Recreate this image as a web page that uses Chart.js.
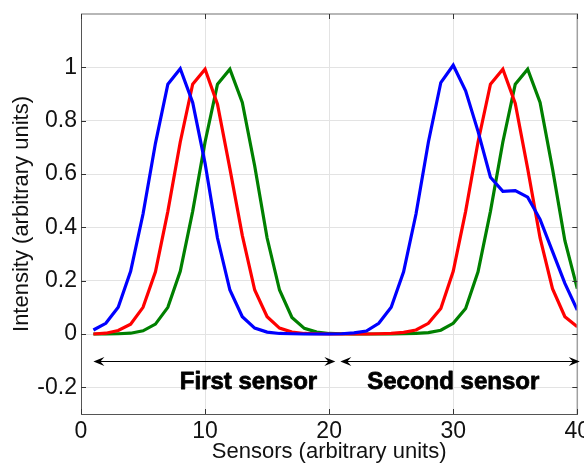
<!DOCTYPE html>
<html>
<head>
<meta charset="utf-8">
<script src="https://cdn.jsdelivr.net/npm/chart.js@4.4.1/dist/chart.umd.min.js"></script>
<style>
  html, body { margin: 0; padding: 0; background: #fff; overflow: hidden; }
  #wrap { width: 584px; height: 463px; }
</style>
</head>
<body>
<div id="wrap"><canvas id="sensor-chart" width="584" height="463"></canvas></div>
<script>
// sensor index along the array
const sensors = [1, 2, 3, 4, 5, 6, 7, 8, 9, 10, 11, 12, 13, 14, 15, 16, 17, 18, 19, 20,
  21, 22, 23, 24, 25, 26, 27, 28, 29, 30, 31, 32, 33, 34, 35, 36, 37, 38, 39, 40];

// measured intensity per sensor, one array per channel
const blueIntensity = [0.015, 0.04, 0.1, 0.235, 0.45, 0.715, 0.937, 0.995, 0.868, 0.64,
  0.36, 0.165, 0.065, 0.022, 0.007, 0.002, 0.001, 0, 0, 0,
  0.001, 0.004, 0.011, 0.04, 0.1, 0.233, 0.45, 0.72, 0.943, 1.008,
  0.912, 0.76, 0.588, 0.535, 0.538, 0.513, 0.43, 0.31, 0.19, 0.09];
const redIntensity = [0, 0.003, 0.013, 0.037, 0.1, 0.233, 0.46, 0.72, 0.937, 0.993,
  0.862, 0.62, 0.37, 0.165, 0.065, 0.022, 0.007, 0.002, 0.001, 0,
  0, 0, 0, 0.001, 0.002, 0.006, 0.015, 0.04, 0.096, 0.235,
  0.46, 0.72, 0.937, 0.993, 0.865, 0.62, 0.36, 0.17, 0.065, 0.027];
const greenIntensity = [0, 0, 0.001, 0.003, 0.012, 0.037, 0.1, 0.235, 0.46, 0.72,
  0.937, 0.993, 0.868, 0.63, 0.36, 0.165, 0.062, 0.021, 0.007, 0.002,
  0.001, 0, 0, 0, 0, 0.001, 0.002, 0.005, 0.014, 0.04,
  0.096, 0.233, 0.46, 0.72, 0.937, 0.993, 0.868, 0.62, 0.35, 0.17];

const xTicks = [0, 10, 20, 30, 40];
const yTicks = [-0.2, 0, 0.2, 0.4, 0.6, 0.8, 1];

// double-headed spans under the curves: [from, to, level]
const sensorSpans = [[1, 20.5, -0.1], [20.9, 40.2, -0.1]];
const spanLabels = ["First sensor", "Second sensor"];
const spanLabelPos = [[13.5, -0.181], [30, -0.181]];

const FONT = "'Liberation Sans', Arial, sans-serif";

function series(values) {
  return sensors.map((s, i) => ({ x: s, y: values[i] }));
}

function tickText(value) {
  return String(Math.round(value * 10) / 10);
}

function arrowHead(ctx, x, y, dir) {
  // stealth style head pointing in dir (+1 right, -1 left)
  ctx.beginPath();
  ctx.moveTo(x, y);
  ctx.lineTo(x - dir * 11, y - 4.5);
  ctx.lineTo(x - dir * 7, y);
  ctx.lineTo(x - dir * 11, y + 4.5);
  ctx.closePath();
  ctx.fill();
}

const sensorAnnotations = {
  id: "sensorAnnotations",
  afterDraw(chart) {
    const { ctx, chartArea: area, scales: { x, y } } = chart;
    ctx.save();

    // box around the axes
    ctx.strokeStyle = "#a0a0a0";
    ctx.lineWidth = 1.5;
    ctx.beginPath();
    ctx.moveTo(area.left, area.top);
    ctx.lineTo(area.right, area.top);
    ctx.lineTo(area.right, area.bottom);
    ctx.stroke();

    // inward tick marks
    ctx.strokeStyle = "#333";
    ctx.lineWidth = 1;
    ctx.beginPath();
    xTicks.forEach(v => {
      const px = Math.round(x.getPixelForValue(v)) + 0.5;
      ctx.moveTo(px, area.top);
      ctx.lineTo(px, area.top + 5);
      ctx.moveTo(px, area.bottom);
      ctx.lineTo(px, area.bottom - 5);
    });
    yTicks.forEach(v => {
      const py = Math.round(y.getPixelForValue(v)) + 0.5;
      ctx.moveTo(area.left, py);
      ctx.lineTo(area.left + 5, py);
      ctx.moveTo(area.right, py);
      ctx.lineTo(area.right - 5, py);
    });
    ctx.stroke();

    // arrows
    ctx.strokeStyle = "#000";
    ctx.fillStyle = "#000";
    ctx.lineWidth = 1;
    sensorSpans.forEach(([from, to, level]) => {
      const x0 = x.getPixelForValue(from);
      const x1 = x.getPixelForValue(to);
      const py = Math.round(y.getPixelForValue(level)) + 0.5;
      ctx.beginPath();
      ctx.moveTo(x0 + 4, py);
      ctx.lineTo(x1 - 4, py);
      ctx.stroke();
      arrowHead(ctx, x0, py, -1);
      arrowHead(ctx, x1, py, 1);
    });

    // span captions, heavy weight
    ctx.font = "bold 24px " + FONT;
    ctx.textAlign = "center";
    ctx.textBaseline = "middle";
    ctx.lineWidth = 0.8;
    ctx.lineJoin = "round";
    spanLabels.forEach((text, i) => {
      const [vx, vy] = spanLabelPos[i];
      const px = x.getPixelForValue(vx);
      const py = y.getPixelForValue(vy);
      ctx.fillText(text, px, py);
      ctx.strokeText(text, px, py);
    });

    ctx.restore();
  }
};

const lineStyle = { borderWidth: 3.2, pointRadius: 0, tension: 0, fill: false };

new Chart(document.getElementById("sensor-chart"), {
  type: "line",
  data: {
    datasets: [
      { label: "blue", data: series(blueIntensity), borderColor: "#0000ff", ...lineStyle },
      { label: "red", data: series(redIntensity), borderColor: "#ff0000", ...lineStyle },
      { label: "green", data: series(greenIntensity), borderColor: "#008000", ...lineStyle },
    ],
  },
  options: {
    responsive: false,
    animation: false,
    layout: { padding: { top: 14, right: 6.7, bottom: 0, left: 0 } },
    plugins: {
      legend: { display: false },
      tooltip: { enabled: false },
    },
    scales: {
      x: {
        type: "linear",
        min: 0,
        max: 40,
        afterBuildTicks: scale => { scale.ticks = xTicks.map(v => ({ value: v })); },
        afterFit: scale => {
          scale.height = 49;
          scale.paddingLeft = 0;
          scale.paddingRight = 0;
        },
        grid: { color: "#e3e3e3", drawTicks: false },
        border: { color: "#555", width: 1 },
        ticks: { color: "#111", font: { family: FONT, size: 23 }, padding: 4, maxRotation: 0, callback: tickText },
        title: {
          display: true,
          text: "Sensors (arbitrary units)",
          color: "#111",
          font: { family: FONT, size: 22, lineHeight: 1.0 },
          padding: { top: 0, bottom: 0 },
        },
      },
      y: {
        min: -0.3,
        max: 1.2,
        afterBuildTicks: scale => { scale.ticks = yTicks.map(v => ({ value: v })); },
        afterFit: scale => {
          scale.width = 81;
          scale.paddingTop = 0;
          scale.paddingBottom = 0;
        },
        grid: { color: "#e3e3e3", drawTicks: false },
        border: { color: "#555", width: 1 },
        ticks: { color: "#111", font: { family: FONT, size: 23 }, padding: 4, callback: tickText },
        title: {
          display: true,
          text: "Intensity (arbitrary units)",
          color: "#111",
          font: { family: FONT, size: 22, lineHeight: 1.2 },
          padding: { top: 9, bottom: 0 },
        },
      },
    },
  },
  plugins: [sensorAnnotations],
});
</script>
</body>
</html>
